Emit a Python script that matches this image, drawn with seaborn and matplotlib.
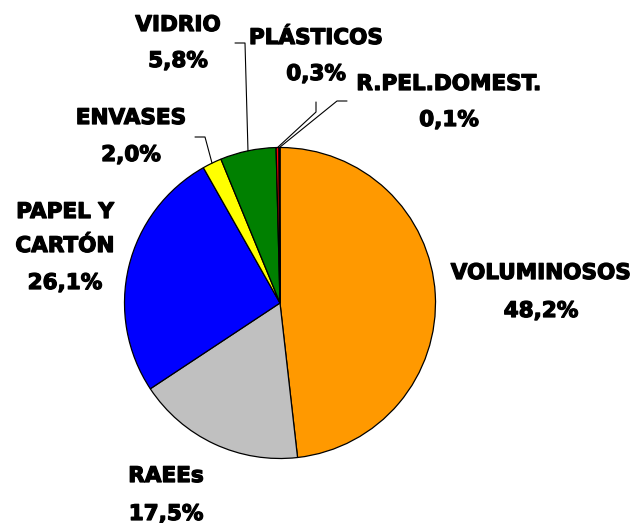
import numpy as np
import matplotlib
matplotlib.use("Agg")
import matplotlib.pyplot as plt
import matplotlib.patheffects as pe
import seaborn as sns

sns.set_theme(style="white")
plt.rcParams['font.family'] = ['DejaVu Sans']

categories = ["VOLUMINOSOS", "RAEEs", "PAPEL Y\nCARTÓN", "ENVASES", "VIDRIO", "PLÁSTICOS", "R.PEL.DOMEST."]
values = [48.2, 17.5, 26.1, 2.0, 5.8, 0.3, 0.1]
pct_labels = ["48,2%", "17,5%", "26,1%", "2,0%", "5,8%", "0,3%", "0,1%"]
colors = ["#FF9900", "#C0C0C0", "#0000FF", "#FFFF00", "#008000", "#FF0000", "#800000"]

W, H = 642, 523
CX, CY, R = 280.0, 303.0, 155.5

def px(x, y):
    return ((x - CX) / R, (CY - y) / R)

fig = plt.figure(figsize=(W / 100, H / 100), dpi=100)
ax = fig.add_axes([0, 0, 1, 1])
wedges, _ = ax.pie(values, colors=colors, startangle=90, counterclock=False,
                   radius=1.0, wedgeprops=dict(edgecolor="black", linewidth=0.9))
ax.set_xlim(-CX / R, (W - CX) / R)
ax.set_ylim((CY - H) / R, CY / R)
ax.set_aspect("equal")
ax.axis("off")

# label layout (pixel centres of the name line), line gaps in pixels
label_pos = {
    0: (541, 273, [0, 38]),
    1: (166, 476, [0, 38]),
    2: (65, 212, [0, 34, 71]),
    3: (131, 118, [0, 37]),
    4: (178, 25, [0, 36]),
    5: (316, 38, [0, 36]),
    6: (449, 84, [0, 36]),
}
fs = 15.5
stroke = [pe.withStroke(linewidth=0.9, foreground="black")]
for i, (x, y, offs) in label_pos.items():
    lines = categories[i].split("\n") + [pct_labels[i]]
    for line, dy in zip(lines, offs):
        tx, ty = px(x, y + dy)
        ax.text(tx, ty, line, ha="center", va="center", fontsize=fs,
                fontweight="bold", color="black", path_effects=stroke)

# leader lines: elbow points in pixels, anchor on wedge edge at mid angle
leaders = {
    3: [(195, 137), (205, 137)],
    4: [(235, 43), (245, 43)],
    5: [(316, 102), (316, 112)],
    6: [(347, 101), (337, 101)],
}
for i, pts in leaders.items():
    w = wedges[i]
    mid = np.deg2rad((w.theta1 + w.theta2) / 2)
    ax_, ay_ = np.cos(mid), np.sin(mid)
    xs = [px(*p)[0] for p in pts] + [ax_]
    ys = [px(*p)[1] for p in pts] + [ay_]
    ax.plot(xs, ys, color="black", linewidth=0.8)

fig.savefig("out.png", dpi=100, facecolor="white")
